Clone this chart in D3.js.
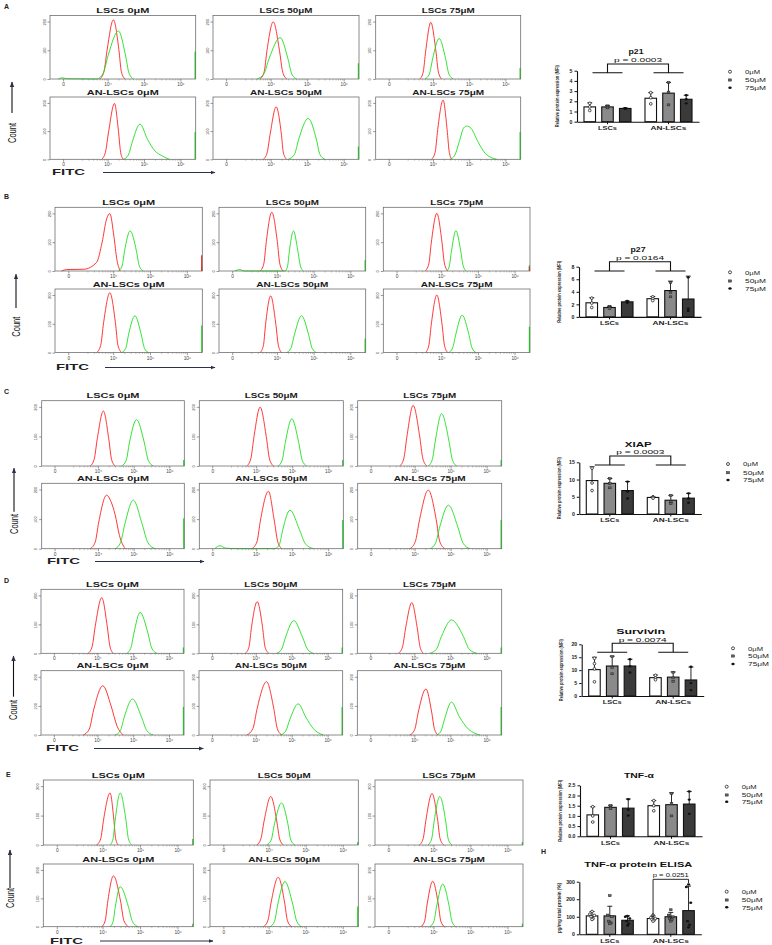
<!DOCTYPE html>
<html>
<head>
<meta charset="utf-8">
<script src="https://cdn.jsdelivr.net/npm/d3@7"></script>
<style>
  body { margin: 0; background: #fff; }
  svg { display: block; }
  text { font-family: "Liberation Sans", Arial, sans-serif; }
</style>
</head>
<body>
<svg id="fig" width="772" height="945"></svg>
<script>
// ---- data: flow cytometry histograms ([log decade, count]) ----
const flowTitles = ['LSCs 0μM', 'LSCs 50μM', 'LSCs 75μM', 'AN-LSCs 0μM', 'AN-LSCs 50μM', 'AN-LSCs 75μM']
const xTickVals = [2.78, 4, 5, 6]
const xTickLabels = ['0', '10⁴', '10⁵', '10⁶']
const yTickVals = [0, 100, 200]

const redA = [
  [[3.79,0],[3.9,25],[3.99,103],[4.16,206],[4.31,103],[4.38,25],[4.48,0]],
  [[3.71,0],[3.82,24],[3.9,100],[4.07,199],[4.24,100],[4.33,24],[4.44,0]],
  [[3.64,0],[3.73,24],[3.8,98],[3.94,197],[4.08,98],[4.15,24],[4.24,0]],
  [[3.84,0],[3.94,24],[4.03,99],[4.19,198],[4.3,99],[4.36,24],[4.43,0]],
  [[3.8,0],[3.9,22],[3.99,93],[4.15,186],[4.29,93],[4.35,22],[4.44,0]],
  [[3.96,0],[4.06,25],[4.13,105],[4.28,210],[4.39,105],[4.45,25],[4.52,0]]
]
const greenA = [
  [[2.65,0],[2.75,4],[2.9,1],[3.7,0],[3.88,20],[4.02,84],[4.3,167],[4.49,84],[4.59,20],[4.71,0]],
  [[3.62,0],[3.81,17],[3.96,72],[4.26,144],[4.47,72],[4.58,17],[4.71,0]],
  [[3.78,0],[3.9,17],[3.99,70],[4.17,141],[4.35,70],[4.44,17],[4.56,0]],
  [[4.43,0],[4.57,15],[4.68,62],[4.89,125],[5.1,70],[5.3,30],[5.5,12],[5.7,0]],
  [[4.48,0],[4.65,17],[4.77,72],[5.03,145],[5.25,72],[5.35,17],[5.49,0]],
  [[4.47,0],[4.6,14],[4.72,60],[4.85,112],[4.93,118],[5.05,110],[5.25,60],[5.45,20],[5.76,0]]
]
const edgeA = [[0,96],[0,55],[0,38],[0,97],[0,45],[0,97]]

const redB = [
  [[2.6,0],[2.74,5],[3.2,6],[3.55,30],[3.7,100],[3.82,180],[3.91,199],[4.02,120],[4.1,40],[4.19,0]],
  [[3.54,0],[3.64,24],[3.71,102],[3.86,204],[4.01,102],[4.08,24],[4.17,0]],
  [[3.56,0],[3.66,24],[3.73,100],[3.88,200],[4.02,100],[4.09,24],[4.18,0]],
  [[3.55,0],[3.66,25],[3.74,104],[3.91,208],[4.06,104],[4.13,25],[4.23,0]],
  [[3.54,0],[3.63,24],[3.69,98],[3.83,197],[3.97,98],[4.04,24],[4.13,0]],
  [[3.57,0],[3.66,24],[3.73,100],[3.88,200],[4.02,100],[4.09,24],[4.18,0]]
]
const greenB = [
  [[4.14,0],[4.24,17],[4.31,70],[4.46,139],[4.63,70],[4.71,17],[4.82,0]],
  [[2.85,0],[2.99,5],[3.1,0],[4.22,0],[4.29,17],[4.34,70],[4.45,139],[4.57,70],[4.64,17],[4.72,0]],
  [[4.15,0],[4.22,17],[4.28,70],[4.4,140],[4.53,70],[4.6,17],[4.68,0]],
  [[4.23,0],[4.34,15],[4.42,64],[4.59,128],[4.76,64],[4.85,15],[4.96,0]],
  [[4.26,0],[4.38,15],[4.48,64],[4.67,128],[4.86,64],[4.96,15],[5.08,0]],
  [[4.2,0],[4.31,16],[4.4,65],[4.57,130],[4.75,65],[4.84,16],[4.95,0]]
]
const edgeB = [[55,17],[0,38],[15,20],[0,94],[0,49],[0,90]]

const redC = [
  [[3.78,0],[3.89,22],[3.98,93],[4.15,186],[4.3,93],[4.38,22],[4.48,0]],
  [[3.74,0],[3.85,24],[3.94,100],[4.11,199],[4.28,100],[4.37,24],[4.48,0]],
  [[3.59,0],[3.7,25],[3.79,102],[3.96,205],[4.14,102],[4.23,25],[4.34,0]],
  [[3.78,0],[3.92,22],[4.02,90],[4.24,181],[4.36,160],[4.48,115],[4.6,45],[4.76,0]],
  [[3.88,0],[4.02,23],[4.12,97],[4.34,194],[4.5,97],[4.6,23],[4.71,0]],
  [[3.87,0],[4.02,24],[4.14,99],[4.38,198],[4.6,99],[4.7,24],[4.84,0]]
]
const greenC = [
  [[4.66,0],[4.79,19],[4.88,78],[5.08,157],[5.3,78],[5.41,19],[5.55,0]],
  [[4.61,0],[4.72,19],[4.81,80],[4.99,160],[5.18,80],[5.28,19],[5.4,0]],
  [[4.38,0],[4.49,21],[4.58,88],[4.75,177],[4.95,88],[5.05,21],[5.17,0]],
  [[4.48,0],[4.63,20],[4.75,82],[4.99,164],[5.24,82],[5.4,20],[5.6,0]],
  [[2.85,0],[2.99,10],[3.15,2],[3.5,0],[4.52,0],[4.65,16],[4.74,65],[4.94,130],[5.2,65],[5.37,16],[5.59,0]],
  [[4.43,0],[4.58,18],[4.7,74],[4.94,147],[5.2,74],[5.35,18],[5.54,0]]
]
const edgeC = [[0,20],[0,20],[0,20],[0,102],[0,97],[0,97]]

const redD = [
  [[3.74,0],[3.85,23],[3.94,96],[4.12,192],[4.27,96],[4.35,23],[4.44,0]],
  [[3.71,0],[3.81,21],[3.88,89],[4.04,178],[4.19,89],[4.26,21],[4.36,0]],
  [[3.56,0],[3.67,21],[3.76,88],[3.93,175],[4.08,88],[4.16,21],[4.25,0]],
  [[3.6,0],[3.77,20],[3.89,85],[4.15,169],[4.38,100],[4.55,30],[4.72,0]],
  [[3.75,0],[3.92,22],[4.04,92],[4.3,183],[4.5,92],[4.6,22],[4.72,0]],
  [[3.88,0],[4.01,19],[4.11,79],[4.32,158],[4.48,79],[4.56,19],[4.66,0]]
]
const greenD = [
  [[4.82,0],[4.93,17],[5.02,70],[5.19,141],[5.41,70],[5.52,17],[5.66,0]],
  [[4.58,0],[4.72,14],[4.83,56],[5.06,113],[5.3,56],[5.44,14],[5.6,0]],
  [[4.43,0],[4.61,14],[4.75,58],[5.03,115],[5.36,58],[5.52,14],[5.73,0]],
  [[4.49,0],[4.64,15],[4.75,62],[4.98,124],[5.23,62],[5.38,15],[5.56,0]],
  [[4.68,0],[4.83,13],[4.95,54],[5.18,107],[5.4,60],[5.6,22],[5.88,0]],
  [[4.62,0],[4.74,14],[4.84,56],[5.03,113],[5.25,62],[5.5,20],[5.82,0]]
]
const edgeD = [[0,20],[0,20],[0,20],[0,96],[0,96],[0,96]]

const redE = [
  [[3.84,0],[3.95,21],[4.03,88],[4.2,177],[4.3,88],[4.35,21],[4.42,0]],
  [[3.68,0],[3.79,20],[3.88,82],[4.06,165],[4.22,82],[4.3,20],[4.4,0]],
  [[3.62,0],[3.72,21],[3.8,88],[3.96,175],[4.11,88],[4.18,21],[4.28,0]],
  [[3.98,0],[4.07,21],[4.14,90],[4.29,179],[4.48,90],[4.57,21],[4.69,0]],
  [[3.86,0],[3.98,21],[4.07,87],[4.26,174],[4.43,87],[4.51,21],[4.62,0]],
  [[3.66,0],[3.76,19],[3.83,80],[3.98,160],[4.13,80],[4.2,19],[4.3,0]]
]
const greenE = [
  [[4.2,0],[4.28,21],[4.34,88],[4.47,177],[4.62,88],[4.69,21],[4.78,0]],
  [[3.95,0],[4.07,17],[4.16,72],[4.35,143],[4.52,72],[4.6,17],[4.71,0]],
  [[3.85,0],[3.95,20],[4.02,82],[4.17,165],[4.33,82],[4.4,20],[4.5,0]],
  [[4.2,0],[4.28,17],[4.34,70],[4.47,141],[4.69,70],[4.8,17],[4.95,0]],
  [[4.04,0],[4.16,19],[4.25,80],[4.44,159],[4.65,80],[4.76,19],[4.89,0]],
  [[3.9,0],[4.01,18],[4.09,75],[4.25,150],[4.42,75],[4.5,18],[4.6,0]]
]
const edgeE = [[0,20],[0,10],[0,10],[0,10],[0,71],[0,10]]

// ---- data: bar charts (rows = LSCs, AN-LSCs; cols = 0, 50, 75 μM) ----
const groups = ['LSCs', 'AN-LSCs']
const doses = ['0μM', '50μM', '75μM']

const p21Mean = [[1.45, 1.45, 1.3], [2.3, 2.8, 2.2]]
const p21Sd = [[0.4, 0.15, 0.05], [0.55, 1.05, 0.4]]
const p21Pts = [[[1.8, 1.45, 1.1], [1.55, 1.45, 1.35], [1.33, 1.3, 1.27]],
                [[2.85, 2.35, 1.75], [3.85, 2.9, 1.65], [2.6, 2.2, 1.8]]]

const p27Mean = [[2.25, 1.5, 2.4], [2.9, 4.2, 2.85]]
const p27Sd = [[0.8, 0.2, 0.15], [0.35, 1.5, 3.65]]
const p27Pts = [[[3.0, 2.2, 1.5], [1.7, 1.5, 1.3], [2.55, 2.4, 2.25]],
                [[3.2, 2.9, 2.6], [5.5, 3.9, 3.2], [6.3, 1.3, 0.95]]]

const xiapMean = [[9.7, 8.9, 6.8], [4.8, 4.0, 4.6]]
const xiapSd = [[4.0, 1.4, 2.6], [0.2, 1.4, 1.4]]
const xiapPts = [[[13.3, 9.0, 6.8], [10.3, 8.8, 7.6], [9.4, 6.5, 4.5]],
                 [[5.0, 4.8, 4.6], [5.4, 3.6, 3.0], [6.0, 4.5, 3.3]]]

const survMean = [[10.2, 11.6, 11.6], [7.1, 7.3, 6.2]]
const survSd = [[4.8, 3.8, 2.6], [1.0, 2.0, 5.0]]
const survPts = [[[14.6, 12.5, 10.5, 5.5], [15.2, 11.0, 8.6], [14.2, 11.5, 9.1]],
                 [[8.0, 7.0, 6.3], [9.2, 7.0, 5.7], [11.3, 5.0, 2.3]]]

const tnfMean = [[1.05, 1.42, 1.38], [1.5, 1.55, 1.58]]
const tnfSd = [[0.4, 0.1, 0.45], [0.25, 0.58, 0.62]]
const tnfPts = [[[1.45, 1.0, 0.7], [1.5, 1.42, 1.35], [1.82, 1.3, 1.02]],
                [[1.75, 1.5, 1.25], [2.1, 1.6, 1.0], [2.2, 1.8, 1.1]]]

const elisaMean = [[105, 105, 80], [90, 100, 135]]
const elisaSd = [[25, 55, 25], [15, 25, 140]]
const elisaPts = [[[130, 115, 108, 100, 90, 85], [220, 110, 100, 75, 65, 60], [105, 100, 90, 75, 60, 50]],
                  [[110, 95, 90, 85, 80, 75], [140, 110, 100, 90, 85, 75], [285, 270, 180, 75, 55, 40]]]

// ---- layout ----
const svg = d3.select('#fig')
const font = '"Liberation Sans", Arial, sans-serif'
const minorTicks = []
for (const n of [3, 4, 5]) for (let k = 2; k <= 9; k++) minorTicks.push(n + Math.log10(k))

const flowLayouts = [
  { label: 'A', lx: 4, ly: 9, cols: [[50, 195.7], [213, 359], [375.7, 520.7]], rows: [[15.5, 79], [97, 159.3]],
    fitcY: 172, fitcX: 52, arrow: [103, 215], countX: 12, countArrow: [113, 82], countY: 133, red: redA, green: greenA, edge: edgeA },
  { label: 'B', lx: 4, ly: 199, cols: [[55, 202.3], [219, 365.7], [383.3, 530]], rows: [[207.3, 271], [289, 352.6]],
    fitcY: 367, fitcX: 56, arrow: [105, 215], countX: 16, countArrow: [308, 274.3], countY: 326.7, red: redB, green: greenB, edge: edgeB },
  { label: 'C', lx: 4, ly: 394, cols: [[41.7, 184.3], [199.3, 343.3], [357.7, 501.7]], rows: [[400.7, 466], [483.3, 548.7]],
    fitcY: 561, fitcX: 47, arrow: [95, 204], countX: 14, countArrow: [511.7, 468.3], countY: 524, red: redC, green: greenC, edge: edgeC },
  { label: 'D', lx: 4, ly: 583, cols: [[41, 184], [199, 342.7], [357.3, 501.7]], rows: [[589.3, 653.3], [670.7, 735]],
    fitcY: 748, fitcX: 46, arrow: [94, 203.3], countX: 13.5, countArrow: [696.7, 656], countY: 710, red: redD, green: greenD, edge: edgeD },
  { label: 'E', lx: 6, ly: 777, cols: [[43.3, 193.3], [210, 358.3], [375, 523]], rows: [[780, 845], [864, 926.7]],
    fitcY: 940.5, fitcX: 50, arrow: [100, 213], countX: 10, countArrow: [888, 850], countY: 898, red: redE, green: greenE, edge: edgeE }
]

const defs = svg.append('defs')
defs.append('marker').attr('id', 'arr').attr('viewBox', '0 0 10 10').attr('refX', 9).attr('refY', 5)
  .attr('markerWidth', 5).attr('markerHeight', 5).attr('orient', 'auto-start-reverse')
  .append('path').attr('d', 'M0,1 L10,5 L0,9 z').attr('fill', '#2b3148')

function drawFlowPanel(lay) {
  lay.rows.forEach(([T, B], r) => lay.cols.forEach(([L, R], c) => {
    const i = r * 3 + c
    const x = d3.scaleLinear().domain([2.42, 6.42]).range([L, R])
    const y = d3.scaleLinear().domain([0, 221]).range([B, T])
    const g = svg.append('g')

    // minor ticks
    g.append('g').attr('transform', `translate(0,${B})`)
      .call(d3.axisBottom(x).tickValues(minorTicks).tickSize(1.5).tickFormat(''))
      .call(a => a.select('.domain').remove())
      .call(a => a.selectAll('line').attr('stroke', '#888').attr('stroke-width', 0.5))
    // major ticks
    g.append('g').attr('transform', `translate(0,${B})`)
      .call(d3.axisBottom(x).tickValues(xTickVals).tickSize(2.5).tickPadding(1)
        .tickFormat((d, j) => xTickLabels[j]))
      .call(a => a.select('.domain').remove())
      .call(a => a.selectAll('line').attr('stroke', '#555').attr('stroke-width', 0.6))
      .call(a => a.selectAll('text').attr('font-size', 4.8).attr('fill', '#444').attr('font-family', font))
    // y ticks
    g.append('g').attr('transform', `translate(${L},0)`)
      .call(d3.axisLeft(y).tickValues(yTickVals).tickSize(2.5))
      .call(a => a.select('.domain').remove())
      .call(a => a.selectAll('line').attr('stroke', '#555').attr('stroke-width', 0.6))
      .call(a => a.selectAll('text').attr('x', null).attr('dy', null).attr('text-anchor', 'middle')
        .attr('transform', 'translate(-4.5,0) rotate(-90)').attr('font-size', 4).attr('fill', '#444')
        .attr('font-family', font))

    const line = d3.line().x(d => x(d[0])).y(d => y(d[1])).curve(d3.curveMonotoneX)
    g.append('path').datum(lay.red[i]).attr('d', line)
      .attr('fill', 'none').attr('stroke', '#ff2020').attr('stroke-width', 0.9)
    g.append('path').datum(lay.green[i]).attr('d', line)
      .attr('fill', 'none').attr('stroke', '#1ee01e').attr('stroke-width', 0.9)

    // spikes at top of scale
    const [er, eg] = lay.edge[i]
    if (eg > 0) g.append('line').attr('x1', R - 0.6).attr('x2', R - 0.6).attr('y1', y(0)).attr('y2', y(eg))
      .attr('stroke', '#1ee01e').attr('stroke-width', 1.2)
    if (er > 0) g.append('line').attr('x1', R - 0.6).attr('x2', R - 0.6).attr('y1', y(0)).attr('y2', y(er))
      .attr('stroke', '#ff2020').attr('stroke-width', 1.2)

    // frame
    g.append('rect').attr('x', L).attr('y', T).attr('width', R - L).attr('height', B - T)
      .attr('fill', 'none').attr('stroke', '#666').attr('stroke-width', 0.75)

    // title
    const t = flowTitles[i]
    g.append('text').attr('x', (L + R) / 2).attr('y', T - 2.3).attr('text-anchor', 'middle')
      .attr('font-size', 8).attr('font-weight', 'bold').attr('fill', '#1a1a1a')
      .attr('textLength', t.startsWith('AN') ? 72 : 53).attr('lengthAdjust', 'spacingAndGlyphs').text(t)
  }))

  // panel letter
  svg.append('text').attr('x', lay.lx).attr('y', lay.ly).attr('font-family', '"Liberation Serif", serif')
    .attr('font-size', 7).attr('font-weight', 'bold').attr('fill', '#222').text(lay.label)
  // FITC + arrow
  svg.append('text').attr('x', lay.fitcX).attr('y', lay.fitcY + 3).attr('font-size', 8.5).attr('font-weight', 'bold')
    .attr('fill', '#222').attr('textLength', 33).attr('lengthAdjust', 'spacingAndGlyphs').text('FITC')
  svg.append('line').attr('x1', lay.arrow[0]).attr('x2', lay.arrow[1]).attr('y1', lay.fitcY + 0.5).attr('y2', lay.fitcY + 0.5)
    .attr('stroke', '#2b3148').attr('stroke-width', 1).attr('marker-end', 'url(#arr)')
  // Count + arrow
  svg.append('line').attr('x1', lay.countX).attr('x2', lay.countX).attr('y1', lay.countArrow[0]).attr('y2', lay.countArrow[1])
    .attr('stroke', '#111').attr('stroke-width', 1.1).attr('marker-end', 'url(#arr)')
  svg.append('text').attr('transform', `translate(${lay.countX + 3.5},${lay.countY}) rotate(-90)`)
    .attr('text-anchor', 'middle').attr('font-size', 10).attr('fill', '#111')
    .attr('textLength', 20).attr('lengthAdjust', 'spacingAndGlyphs').text('Count')
}

flowLayouts.forEach(drawFlowPanel)

// ---- bar charts ----
const barCharts = [
  { ax: 577, max: 5, step: 1, y0: 121.7, yTop: 70.7, title: 'p21', tw: 15, titleY: 54.3, p: 'p = 0.0003', pY: 62.2, br: [64, 72.7],
    legY: [71.7, 80, 87.7], legX: 730, mean: p21Mean, sd: p21Sd, pts: p21Pts },
  { ax: 579, max: 8, step: 2, y0: 316.9, yTop: 266.7, title: 'p27', tw: 15, titleY: 252.3, p: 'p = 0.0164', pY: 259.9, br: [261.7, 271],
    legY: [272.3, 281, 288.5], legX: 730, mean: p27Mean, sd: p27Sd, pts: p27Pts },
  { ax: 579.3, max: 15, step: 5, y0: 514, yTop: 462.3, title: 'XIAP', tw: 27, titleY: 447, p: 'p = 0.0003', pY: 454, br: [456, 465],
    legY: [464, 472.7, 480], legX: 728, mean: xiapMean, sd: xiapSd, pts: xiapPts },
  { ax: 581.7, max: 20, step: 5, y0: 696, yTop: 644.3, title: 'Survivin', tw: 49, titleY: 633.8, p: 'p = 0.0074', pY: 641.5, br: [643.3, 652.3],
    legY: [648.3, 656, 664], legX: 733, mean: survMean, sd: survSd, pts: survPts },
  { ax: 580, max: 2.5, step: 0.5, fmt: '.1f', y0: 836.3, yTop: 785.3, title: 'TNF-α', tw: 30, titleY: 777.8,
    legY: [786.7, 795, 801.7], legX: 726.7, mean: tnfMean, sd: tnfSd, pts: tnfPts },
  { ax: 579.3, max: 300, step: 100, y0: 934.3, yTop: 881.7, title: 'TNF-α protein ELISA', tw: 108, titleY: 867.3,
    p: 'p = 0.0251', pY: 877.2, pair: [879.3, 917, 883], ylab: 'pg/mg total protein (%)',
    legY: [891.7, 900, 907.3], legX: 726.7, mean: elisaMean, sd: elisaSd, pts: elisaPts }
]
const barFill = ['#ffffff', '#8a8a8a', '#3a3a3a']

function marker(g, k, cx, cy, s) {
  if (k === 0) g.append('circle').attr('cx', cx).attr('cy', cy).attr('r', 1.5 * s)
    .attr('fill', '#fff').attr('stroke', '#222').attr('stroke-width', 0.8)
  else if (k === 1) g.append('rect').attr('x', cx - 1.5 * s).attr('y', cy - 1.1 * s).attr('width', 3 * s).attr('height', 2.2 * s)
    .attr('fill', '#666').attr('stroke', '#222').attr('stroke-width', 0.5)
  else g.append('ellipse').attr('cx', cx).attr('cy', cy).attr('rx', 1.7 * s).attr('ry', 1.3 * s).attr('fill', '#111')
}

function drawBarChart(cfg) {
  const g = svg.append('g')
  const x0 = d3.scaleBand().domain(groups).range([cfg.ax, cfg.ax + 122]).paddingInner(0.2).paddingOuter(0.1)
  const x1 = d3.scaleBand().domain(doses).range([0, x0.bandwidth()]).paddingInner(0.35).paddingOuter(0.05)
  const y = d3.scaleLinear().domain([0, cfg.max]).range([cfg.y0, cfg.yTop])

  groups.forEach((grp, gi) => doses.forEach((dose, k) => {
    const bx = x0(grp) + x1(dose)
    const cx = bx + x1.bandwidth() / 2
    const m = cfg.mean[gi][k], s = cfg.sd[gi][k]
    g.append('rect').attr('x', bx).attr('y', y(m)).attr('width', x1.bandwidth()).attr('height', y(0) - y(m))
      .attr('fill', barFill[k]).attr('stroke', '#111').attr('stroke-width', 1.1)
    g.append('line').attr('x1', cx).attr('x2', cx).attr('y1', y(m)).attr('y2', y(m + s))
      .attr('stroke', '#111').attr('stroke-width', 0.9)
    g.append('line').attr('x1', cx - 2.5).attr('x2', cx + 2.5).attr('y1', y(m + s)).attr('y2', y(m + s))
      .attr('stroke', '#111').attr('stroke-width', 0.9)
    const offs = [0, -2.2, 2.2, -1, 1, 0]
    cfg.pts[gi][k].forEach((v, j) => marker(g, k, cx + (cfg.pts[gi][k].length > 4 ? offs[j] : 0), y(v), 0.9))
  }))

  // axes
  g.append('g').attr('transform', `translate(${cfg.ax},0)`)
    .call(d3.axisLeft(y).tickValues(d3.range(0, cfg.max + cfg.step / 2, cfg.step))
      .tickSize(2.5).tickSizeOuter(0).tickPadding(2).tickFormat(cfg.fmt ? d3.format(cfg.fmt) : d3.format('d')))
    .call(a => a.select('.domain').attr('stroke', '#111').attr('stroke-width', 1.1))
    .call(a => a.selectAll('line').attr('stroke', '#111').attr('stroke-width', 1))
    .call(a => a.selectAll('text').attr('font-size', 5.2).attr('font-weight', 'bold').attr('fill', '#222').attr('font-family', font))
  g.append('g').attr('transform', `translate(0,${cfg.y0})`)
    .call(d3.axisBottom(x0).tickSize(2.5).tickSizeOuter(0).tickPadding(2))
    .call(a => a.select('.domain').attr('stroke', '#111').attr('stroke-width', 1.1))
    .call(a => a.selectAll('line').attr('stroke', '#111').attr('stroke-width', 1))
    .call(a => a.selectAll('text').attr('font-size', 5.5).attr('font-weight', 'bold').attr('fill', '#222')
      .attr('font-family', font).attr('textLength', d => d === 'LSCs' ? 19 : 36).attr('lengthAdjust', 'spacingAndGlyphs'))

  const ylab = cfg.ylab || 'Relative protein expression (MFI)'
  g.append('text').attr('transform', `translate(${cfg.ax - 18.5},${(cfg.y0 + cfg.yTop) / 2}) rotate(-90)`)
    .attr('text-anchor', 'middle').attr('font-size', 5).attr('font-weight', 'bold').attr('fill', '#222')
    .attr('textLength', ylab.length > 25 ? 62 : 50).attr('lengthAdjust', 'spacingAndGlyphs').text(ylab)

  g.append('text').attr('x', cfg.ax + 59).attr('y', cfg.titleY).attr('text-anchor', 'middle')
    .attr('font-size', 7.2).attr('font-weight', 'bold').attr('fill', '#111')
    .attr('textLength', cfg.tw).attr('lengthAdjust', 'spacingAndGlyphs').text(cfg.title)

  const c1 = x0('LSCs') + x0.bandwidth() / 2, c2 = x0('AN-LSCs') + x0.bandwidth() / 2
  if (cfg.br) {
    g.append('text').attr('x', (c1 + c2) / 2).attr('y', cfg.pY).attr('text-anchor', 'middle')
      .attr('font-size', 5.8).attr('fill', '#111').attr('textLength', 48).attr('lengthAdjust', 'spacingAndGlyphs').text(cfg.p)
    const [t, b] = cfg.br
    g.append('path').attr('d', `M${c1},${b}V${t}H${c2}V${b}M${c1 - 15},${b}H${c1 + 15}M${c2 - 15},${b}H${c2 + 15}`)
      .attr('fill', 'none').attr('stroke', '#111').attr('stroke-width', 1.1)
  }
  if (cfg.pair) {
    const a0 = x0('AN-LSCs') + x1('0μM') + x1.bandwidth() / 2
    const a2 = x0('AN-LSCs') + x1('75μM') + x1.bandwidth() / 2
    const [t, lb, rb] = cfg.pair
    g.append('path').attr('d', `M${a0},${lb}V${t}H${a2}V${rb}`)
      .attr('fill', 'none').attr('stroke', '#111').attr('stroke-width', 0.9)
    g.append('text').attr('x', (a0 + a2) / 2).attr('y', cfg.pY).attr('text-anchor', 'middle')
      .attr('font-size', 5.8).attr('fill', '#111').attr('textLength', 36).attr('lengthAdjust', 'spacingAndGlyphs').text(cfg.p)
  }

  // legend
  doses.forEach((d, k) => {
    marker(g, k, cfg.legX, cfg.legY[k], 1)
    g.append('text').attr('x', cfg.legX + 15).attr('y', cfg.legY[k] + 2.2).attr('font-size', 6).attr('fill', '#222')
      .attr('textLength', k === 0 ? 15 : 21).attr('lengthAdjust', 'spacingAndGlyphs').text(d)
  })
}

barCharts.forEach(drawBarChart)

svg.append('text').attr('x', 541).attr('y', 854).attr('font-family', '"Liberation Serif", serif')
  .attr('font-size', 7).attr('font-weight', 'bold').attr('fill', '#222').text('H')
</script>
</body>
</html>
